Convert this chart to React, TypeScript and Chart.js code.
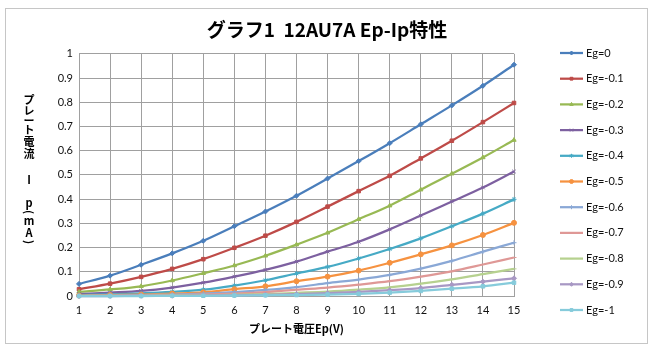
import React, { useEffect, useRef } from 'react';
import { Chart, registerables } from 'chart.js';
import { drawPoint } from 'chart.js/helpers';

Chart.register(...registerables);

// ---- data ----
const plateVoltage = [1, 2, 3, 4, 5, 6, 7, 8, 9, 10, 11, 12, 13, 14, 15];

const eg0 = [0.050, 0.084, 0.129, 0.176, 0.228, 0.288, 0.349, 0.414, 0.485, 0.557, 0.631, 0.709, 0.787, 0.868, 0.955];
const egM01 = [0.028, 0.051, 0.079, 0.112, 0.152, 0.199, 0.249, 0.306, 0.369, 0.433, 0.496, 0.568, 0.641, 0.718, 0.797];
const egM02 = [0.017, 0.027, 0.040, 0.064, 0.094, 0.126, 0.166, 0.212, 0.261, 0.317, 0.373, 0.439, 0.505, 0.572, 0.644];
const egM03 = [0.008, 0.014, 0.021, 0.035, 0.055, 0.080, 0.108, 0.142, 0.183, 0.224, 0.275, 0.332, 0.390, 0.448, 0.514];
const egM04 = [0.004, 0.007, 0.011, 0.017, 0.026, 0.043, 0.065, 0.093, 0.120, 0.155, 0.194, 0.238, 0.288, 0.340, 0.399];
const egM05 = [0.002, 0.004, 0.006, 0.010, 0.015, 0.028, 0.040, 0.061, 0.080, 0.105, 0.137, 0.172, 0.209, 0.252, 0.302];
const egM06 = [0.001, 0.002, 0.004, 0.006, 0.010, 0.016, 0.025, 0.037, 0.053, 0.068, 0.087, 0.113, 0.145, 0.183, 0.220];
const egM07 = [0.000, 0.001, 0.002, 0.004, 0.006, 0.010, 0.016, 0.026, 0.035, 0.047, 0.061, 0.080, 0.102, 0.130, 0.159];
const egM08 = [0.000, 0.001, 0.001, 0.002, 0.003, 0.005, 0.008, 0.013, 0.018, 0.026, 0.036, 0.051, 0.069, 0.090, 0.112];
const egM09 = [0.000, 0.000, 0.001, 0.001, 0.002, 0.003, 0.005, 0.008, 0.012, 0.017, 0.024, 0.033, 0.046, 0.059, 0.073];
const egM10 = [0.000, 0.000, 0.000, 0.001, 0.001, 0.002, 0.003, 0.004, 0.006, 0.009, 0.014, 0.021, 0.030, 0.040, 0.055];

const seriesValues = [eg0, egM01, egM02, egM03, egM04, egM05, egM06, egM07, egM08, egM09, egM10];
const seriesLabels = ['Eg=0', 'Eg=-0.1', 'Eg=-0.2', 'Eg=-0.3', 'Eg=-0.4', 'Eg=-0.5', 'Eg=-0.6', 'Eg=-0.7', 'Eg=-0.8', 'Eg=-0.9', 'Eg=-1'];
const seriesColors = ['#4a7ebb', '#be4b48', '#98b954', '#7d60a0', '#46aac5', '#f69240', '#8aa8d6', '#df9896', '#b6d18f', '#a898c4', '#86cbdb'];
const seriesMarkers = ['rectRot', 'rect', 'triangle', 'crossRot', 'star', 'circle', 'cross', 'line', 'line', 'rectRot', 'rect'];

const chartTitle = 'グラフ1  12AU7A Ep-Ip特性';
const xAxisTitle = 'プレート電圧Ep(V)';
const yAxisTitleChars = ['プ', 'レ', 'ー', 'ト', '電', '流', 'I', 'p', '(', 'm', 'A', ')'];
const yAxisMin = 0;
const yAxisMax = 1;
const yAxisStep = 0.1;

// ---- styling / layout ----
const FONT_LATIN = 'Lato, "Noto Sans CJK JP", sans-serif';
const FONT_CJK = '"Noto Sans CJK JP", Lato, sans-serif';
const GRID = '#a0a0a0';
const yTitleCharY = [100, 111, 121, 130, 142, 154, 180, 203, 212, 221, 233, 242];

const yTitlePlugin = {
  id: 'stackedYTitle',
  afterDraw(chart: any) {
    const ctx = chart.ctx;
    ctx.save();
    ctx.font = 'bold 11px ' + FONT_CJK;
    ctx.fillStyle = '#000';
    ctx.textAlign = 'center';
    ctx.textBaseline = 'middle';
    yAxisTitleChars.forEach((ch, i) => {
      const y = yTitleCharY[i];
      if (ch === '(' || ch === ')') {
        ctx.save();
        ctx.translate(29, y);
        ctx.rotate(Math.PI / 2);
        ctx.fillText(ch, 0, 0);
        ctx.restore();
      } else {
        ctx.fillText(ch, 29, y);
      }
    });
    ctx.restore();
  },
};

const sideLegendPlugin = {
  id: 'sideLegend',
  afterDraw(chart: any) {
    const ctx = chart.ctx;
    const x0 = chart.chartArea.right + 46;
    const top = 53;
    const step = 25.7;
    ctx.save();
    chart.data.datasets.forEach((ds: any, i: number) => {
      const y = top + i * step;
      ctx.strokeStyle = ds.borderColor;
      ctx.fillStyle = ds.borderColor;
      ctx.lineWidth = 2.25;
      ctx.beginPath();
      ctx.moveTo(x0, y);
      ctx.lineTo(x0 + 23, y);
      ctx.stroke();
      ctx.lineWidth = 1;
      drawPoint(ctx, { pointStyle: ds.pointStyle, rotation: 0, radius: 2, borderWidth: 1 } as any, x0 + 11.5, y);
      ctx.fillStyle = '#111';
      ctx.font = '11px ' + FONT_LATIN;
      ctx.textAlign = 'left';
      ctx.textBaseline = 'middle';
      ctx.fillText(ds.label, x0 + 26, y);
    });
    ctx.restore();
  },
};

export default function App() {
  const canvasRef = useRef<HTMLCanvasElement | null>(null);

  useEffect(() => {
    if (!canvasRef.current) return;
    const datasets = seriesValues.map((vals, i) => ({
      label: seriesLabels[i],
      data: vals.map((v, j) => ({ x: plateVoltage[j], y: v })),
      borderColor: seriesColors[i],
      backgroundColor: seriesColors[i],
      borderWidth: 2.25,
      pointStyle: seriesMarkers[i],
      pointRadius: 2.5,
      pointBorderWidth: 1,
      cubicInterpolationMode: 'monotone' as const,
      clip: false as any,
      order: -i,
    }));

    const chart = new Chart(canvasRef.current, {
      type: 'line',
      data: { datasets },
      plugins: [yTitlePlugin, sideLegendPlugin],
      options: {
        responsive: false,
        animation: false,
        devicePixelRatio: 1,
        layout: { padding: 0 },
        plugins: {
          legend: { display: false },
          tooltip: { enabled: false },
          title: {
            display: true,
            text: chartTitle,
            color: '#000',
            font: { family: FONT_CJK, size: 19, weight: 'bold' },
            padding: { top: 18, bottom: 13 },
          },
        },
        scales: {
          x: {
            type: 'linear',
            min: plateVoltage[0],
            max: plateVoltage[plateVoltage.length - 1],
            ticks: { stepSize: 1, color: '#111', font: { family: FONT_LATIN, size: 11 }, padding: 8 },
            grid: { color: GRID, lineWidth: 1, drawTicks: false },
            border: { color: GRID },
            title: {
              display: true,
              text: xAxisTitle,
              color: '#000',
              font: { family: FONT_CJK, size: 11, weight: 'bold' },
              padding: { top: 0, bottom: 16 },
            },
            afterFit: (s: any) => { s.height = 55; },
          },
          y: {
            type: 'linear',
            min: yAxisMin,
            max: yAxisMax,
            ticks: {
              stepSize: yAxisStep,
              color: '#111',
              font: { family: FONT_LATIN, size: 11 },
              padding: 6,
              callback: (v: any) => String(Math.round(Number(v) * 10) / 10),
            },
            grid: { color: GRID, lineWidth: 1, drawTicks: false },
            border: { color: GRID },
            afterFit: (s: any) => { s.width = 79; },
          },
          spacer: {
            type: 'linear',
            position: 'right',
            display: true,
            ticks: { display: false },
            grid: { display: false, drawTicks: false },
            border: { display: false },
            afterFit: (s: any) => { s.width = 140; },
          },
        },
      } as any,
    });
    return () => chart.destroy();
  }, []);

  return (
    <div style={{ position: 'absolute', left: 0, top: 0, width: 654, height: 351, background: '#fff' }}>
      <div
        style={{
          position: 'absolute', left: 5, top: 8, width: 643, height: 336,
          border: '1px solid #c6c6c6', boxSizing: 'border-box', pointerEvents: 'none',
        }}
      />
      <canvas ref={canvasRef} width={654} height={351} style={{ position: 'absolute', left: 0, top: 0, width: 654, height: 351 }} />
    </div>
  );
}
